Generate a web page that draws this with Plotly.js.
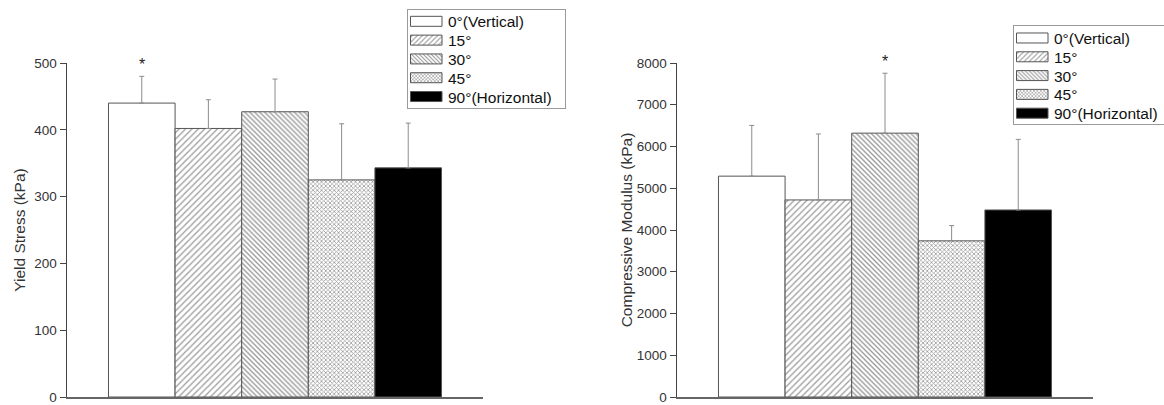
<!DOCTYPE html>
<html>
<head>
<meta charset="utf-8">
<script src="https://cdn.plot.ly/plotly-3.0.1.min.js"></script>
<style>html,body{margin:0;padding:0;background:#fff;}#chart{width:1164px;height:405px;}</style>
</head>
<body>
<div id="chart"></div>
<script>
// ---- data ----
const categories = ['0°(Vertical)', '15°', '30°', '45°', '90°(Horizontal)'];
const yieldMean = [440, 402, 427, 325, 343];
const yieldSD   = [40, 43, 49, 84, 67];
const yieldSig  = [true, false, false, false, false];
const modMean = [5290, 4720, 6320, 3740, 4480];
const modSD   = [1215, 1580, 1435, 365, 1690];
const modSig  = [false, false, true, false, false];
const leftTitle = 'Yield Stress (kPa)';
const rightTitle = 'Compressive Modulus (kPa)';
const leftTicks = [0, 100, 200, 300, 400, 500];
const rightTicks = [0, 1000, 2000, 3000, 4000, 5000, 6000, 7000, 8000];

// ---- styles ----
const FONT = 'Liberation Sans, Arial, sans-serif';
const fills = [
  {color: '#ffffff'},
  {color: '#ffffff', pattern: {shape: '/', fgcolor: '#a0a0a0', bgcolor: '#ffffff', size: 4.5, solidity: 0.3}},
  {color: '#ffffff', pattern: {shape: '\\', fgcolor: '#999999', bgcolor: '#ffffff', size: 3.5, solidity: 0.38}},
  {color: '#ffffff', pattern: {shape: 'x', fgcolor: '#999999', bgcolor: '#ffffff', size: 3, solidity: 0.45}},
  {color: '#000000'}
];

const traces = [];
function addSet(means, sds, xa, ya, legendName) {
  categories.forEach((c, i) => {
    const m = {color: fills[i].color, line: {color: '#555', width: 1}};
    if (fills[i].pattern) m.pattern = fills[i].pattern;
    traces.push({
      type: 'bar', x: [i], y: [means[i]], name: c, width: 1,
      xaxis: xa, yaxis: ya, legend: legendName,
      marker: m,
      error_y: {type: 'data', symmetric: false, array: [sds[i]], arrayminus: [0],
                color: '#8c8c8c', thickness: 1, width: 2.5},
      hoverinfo: 'skip'
    });
  });
}
addSet(yieldMean, yieldSD, 'x', 'y', 'legend');
addSet(modMean, modSD, 'x2', 'y2', 'legend2');

const annotations = [];
yieldSig.forEach((s, i) => { if (s) annotations.push({xref: 'x', yref: 'y', x: i, y: yieldMean[i] + yieldSD[i],
  text: '*', showarrow: false, yanchor: 'bottom', yshift: 1, font: {family: FONT, size: 16, color: '#222'}}); });
modSig.forEach((s, i) => { if (s) annotations.push({xref: 'x2', yref: 'y2', x: i, y: modMean[i] + modSD[i],
  text: '*', showarrow: false, yanchor: 'bottom', yshift: 1, font: {family: FONT, size: 16, color: '#222'}}); });

const xBase = {showline: true, linecolor: '#666', linewidth: 1.5, showticklabels: false, ticks: '',
  showgrid: false, zeroline: false, range: [-1.1225, 5.1225], fixedrange: true};
const yBase = {showline: true, linecolor: '#444', linewidth: 1.5, ticks: 'outside', ticklen: 6, tickcolor: '#444',
  tickwidth: 1, showgrid: false, zeroline: false, tickfont: {family: FONT, size: 13.5, color: '#333'},
  ticklabeloverflow: 'allow', domain: [0, 0.8413]};
const legBase = {xanchor: 'left', yanchor: 'top', bordercolor: '#9a9a9a', borderwidth: 1, bgcolor: '#ffffff',
  font: {family: FONT, size: 15.5, color: '#111'}, tracegroupgap: 0, itemclick: false, itemdoubleclick: false};

const layout = {
  width: 1164, height: 405,
  margin: {l: 0, r: 0, t: 0, b: 8},
  paper_bgcolor: '#ffffff', plot_bgcolor: '#ffffff',
  barmode: 'overlay', showlegend: true,
  font: {family: FONT},
  xaxis: Object.assign({}, xBase, {domain: [67/1164, 483/1164], anchor: 'y'}),
  xaxis2: Object.assign({}, xBase, {domain: [677/1164, 1093/1164], anchor: 'y2'}),
  yaxis: Object.assign({}, yBase, {range: [0, 500], tickvals: leftTicks, anchor: 'x',
    title: {text: leftTitle, font: {family: FONT, size: 15.5, color: '#333'}}}),
  yaxis2: Object.assign({}, yBase, {range: [0, 8000], tickvals: rightTicks, anchor: 'x2',
    title: {text: rightTitle, font: {family: FONT, size: 15.5, color: '#333'}}}),
  legend: Object.assign({}, legBase, {x: 407/1164, y: (405-9)/405}),
  legend2: Object.assign({}, legBase, {x: 1013/1164, y: (405-26)/405}),
  annotations: annotations
};

Plotly.newPlot('chart', traces, layout, {staticPlot: true, displayModeBar: false}).then(gd => {
  // legend swatches as wide rectangles, tighter rows (as in the original figure)
  const SP = 18.8, TOP = 12.5, BOTTOM = 11, W = 158;
  gd.querySelectorAll('g.legend, g.legend2').forEach(leg => {
    leg.querySelectorAll('g.legendpoints path').forEach(p => p.setAttribute('d', 'M-17.5,5H14V-5H-17.5Z'));
    const items = leg.querySelectorAll('g.traces');
    items.forEach((it, i) => {
      const t = it.getAttribute('transform') || '';
      const m = /translate\(\s*([-\d.e]+)[ ,]+([-\d.e]+)\s*\)/.exec(t);
      const x = m ? parseFloat(m[1]) : 0;
      it.setAttribute('transform', 'translate(' + x + ',' + (TOP + i * SP) + ')');
    });
    const bg = leg.querySelector('rect.bg');
    if (bg) {
      bg.setAttribute('height', TOP + (items.length - 1) * SP + BOTTOM);
      bg.setAttribute('width', W);
    }
  });
});
</script>
</body>
</html>
